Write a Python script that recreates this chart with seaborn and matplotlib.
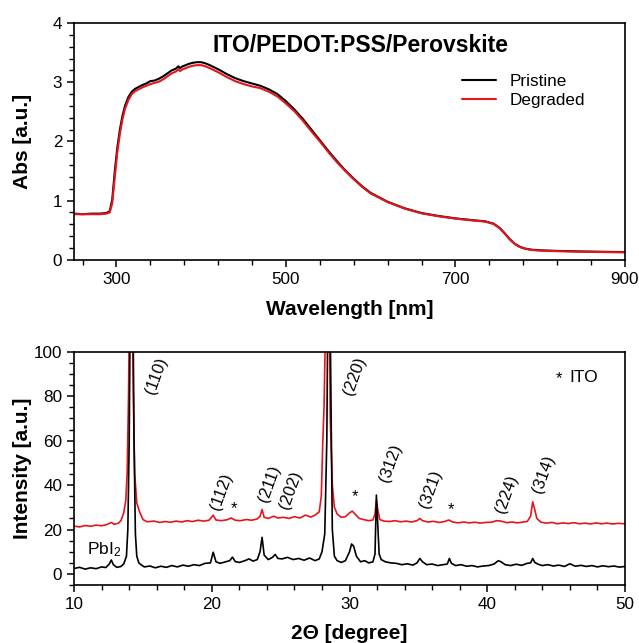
import numpy as np
import pandas as pd
import matplotlib
matplotlib.use("Agg")
import matplotlib.pyplot as plt
from matplotlib.ticker import MultipleLocator, FixedLocator
import seaborn as sns

# ---------------- UV-Vis data ----------------
wavelength = [250, 260, 270, 280, 288, 292, 295, 298, 301, 304, 307, 310, 314, 318, 322,
              326, 330, 335, 340, 345, 350, 355, 360, 365, 370, 373, 375, 378, 380, 385,
              390, 395, 400, 405, 410, 420, 430, 440, 450, 460, 470, 480, 490, 500, 510,
              520, 530, 540, 550, 560, 570, 580, 590, 600, 620, 640, 660, 680, 700, 720,
              735, 745, 752, 758, 764, 770, 776, 782, 790, 800, 820, 850, 875, 900]
abs_pristine = [0.78, 0.77, 0.78, 0.78, 0.79, 0.82, 1.02, 1.50, 1.90, 2.20, 2.43, 2.60, 2.75, 2.84, 2.89,
                2.92, 2.95, 2.98, 3.02, 3.03, 3.06, 3.10, 3.15, 3.20, 3.23, 3.27, 3.24, 3.27, 3.28, 3.31,
                3.33, 3.34, 3.34, 3.32, 3.29, 3.22, 3.14, 3.07, 3.02, 2.98, 2.94, 2.88, 2.80, 2.68, 2.54,
                2.38, 2.20, 2.02, 1.84, 1.67, 1.51, 1.37, 1.24, 1.13, 0.98, 0.87, 0.79, 0.74, 0.70, 0.67,
                0.65, 0.61, 0.54, 0.45, 0.35, 0.27, 0.22, 0.19, 0.17, 0.16, 0.15, 0.14, 0.135, 0.13]
abs_degraded = [0.77, 0.77, 0.77, 0.77, 0.78, 0.80, 0.96, 1.40, 1.82, 2.13, 2.37, 2.55, 2.70, 2.80, 2.85,
                2.88, 2.91, 2.94, 2.97, 2.99, 3.01, 3.05, 3.10, 3.15, 3.18, 3.22, 3.19, 3.22, 3.23, 3.26,
                3.28, 3.29, 3.29, 3.27, 3.24, 3.17, 3.09, 3.02, 2.97, 2.93, 2.90, 2.84, 2.76, 2.64, 2.51,
                2.35, 2.17, 2.00, 1.82, 1.65, 1.50, 1.36, 1.23, 1.12, 0.975, 0.865, 0.785, 0.735, 0.695, 0.665,
                0.645, 0.605, 0.535, 0.445, 0.345, 0.265, 0.215, 0.185, 0.165, 0.155, 0.145, 0.135, 0.13, 0.125]

# ---------------- XRD data (2theta, intensity) ----------------
xrd_pristine = [
    (10.0, 2.5), (10.4, 3.0), (10.8, 2.2), (11.2, 2.8), (11.6, 2.4), (12.0, 3.2), (12.3, 2.9),
    (12.55, 4.5), (12.7, 6.3), (12.85, 4.2), (13.1, 3.0), (13.4, 3.4), (13.6, 4.5), (13.8, 8),
    (13.9, 20), (14.0, 60), (14.1, 140), (14.25, 140), (14.35, 60), (14.45, 18), (14.55, 8),
    (14.7, 5), (14.9, 4.0), (15.1, 3.2), (15.5, 3.6), (15.9, 2.8), (16.3, 3.5), (16.7, 3.0),
    (17.1, 3.8), (17.5, 3.2), (17.9, 4.0), (18.3, 3.5), (18.7, 4.2), (19.1, 3.8), (19.5, 4.8),
    (19.9, 5.0), (20.1, 9.8), (20.3, 5.5), (20.6, 4.8), (21.0, 5.5), (21.3, 6.0), (21.5, 7.6),
    (21.7, 5.6), (22.0, 5.2), (22.4, 6.0), (22.7, 6.8), (23.0, 5.8), (23.3, 6.5), (23.5, 10),
    (23.65, 16.5), (23.8, 8.5), (24.1, 6.5), (24.4, 7.5), (24.6, 8.8), (24.8, 7.0), (25.1, 6.8),
    (25.5, 7.5), (25.9, 6.5), (26.3, 7.0), (26.7, 6.2), (27.1, 7.2), (27.5, 6.0), (27.8, 6.8),
    (28.0, 10), (28.2, 18), (28.35, 60), (28.45, 140), (28.55, 140), (28.65, 80), (28.75, 20),
    (28.9, 8), (29.1, 6.0), (29.4, 5.2), (29.7, 6.0), (30.0, 10), (30.15, 13.5), (30.3, 12.5),
    (30.5, 8), (30.8, 5.5), (31.1, 6.0), (31.4, 5.0), (31.7, 5.5), (31.85, 9), (31.95, 35.5),
    (32.05, 22), (32.15, 9), (32.3, 6.5), (32.6, 5.5), (33.0, 5.0), (33.4, 4.8), (33.8, 4.2),
    (34.2, 4.6), (34.6, 4.0), (34.9, 5.0), (35.1, 7.0), (35.3, 5.5), (35.6, 4.2), (36.0, 4.5),
    (36.4, 3.8), (36.8, 4.2), (37.1, 4.5), (37.25, 7.0), (37.4, 4.8), (37.7, 3.8), (38.1, 4.2),
    (38.5, 3.5), (38.9, 3.8), (39.3, 3.2), (39.7, 3.6), (40.1, 3.8), (40.5, 4.5), (40.8, 6.0),
    (41.0, 5.5), (41.3, 4.2), (41.7, 3.8), (42.1, 4.4), (42.5, 3.9), (42.9, 4.8), (43.15, 5.0),
    (43.3, 7.0), (43.45, 5.2), (43.7, 4.4), (44.0, 3.8), (44.4, 4.2), (44.8, 3.6), (45.2, 4.0),
    (45.6, 3.4), (46.0, 4.6), (46.4, 3.5), (46.8, 3.9), (47.2, 3.4), (47.6, 3.8), (48.0, 3.2),
    (48.4, 3.7), (48.8, 3.3), (49.2, 3.6), (49.6, 3.1), (50.0, 3.4)]

xrd_degraded = [
    (10.0, 21.5), (10.4, 21.2), (10.8, 21.8), (11.2, 21.5), (11.6, 22.0), (12.0, 21.7), (12.4, 22.3),
    (12.7, 23.2), (12.9, 22.4), (13.2, 22.8), (13.4, 24.0), (13.6, 27.5), (13.75, 33), (13.85, 45),
    (13.95, 80), (14.05, 140), (14.2, 140), (14.3, 80), (14.4, 45), (14.55, 32), (14.75, 28),
    (15.0, 24.5), (15.3, 23.5), (15.8, 23.8), (16.2, 23.2), (16.6, 23.6), (17.0, 23.3), (17.4, 23.8),
    (17.8, 23.4), (18.2, 24.0), (18.6, 23.6), (19.0, 24.2), (19.4, 23.8), (19.8, 24.2), (20.1, 26.5),
    (20.3, 24.3), (20.7, 24.0), (21.1, 24.4), (21.4, 25.2), (21.7, 24.2), (22.1, 24.0), (22.5, 24.5),
    (22.9, 24.2), (23.3, 24.8), (23.5, 26.0), (23.65, 29.0), (23.8, 25.5), (24.1, 25.0), (24.5, 26.0),
    (24.8, 25.2), (25.2, 25.5), (25.6, 25.0), (26.0, 25.8), (26.4, 25.2), (26.8, 26.5), (27.2, 25.6),
    (27.5, 26.5), (27.8, 28.0), (27.95, 35), (28.05, 58), (28.15, 75), (28.25, 110), (28.35, 140),
    (28.5, 140), (28.6, 70), (28.75, 40), (28.9, 30), (29.1, 27), (29.4, 25.5), (29.7, 25.8),
    (30.0, 27.5), (30.2, 28.3), (30.4, 27.0), (30.7, 25.0), (31.0, 24.5), (31.4, 24.0), (31.7, 24.3),
    (31.85, 27), (31.95, 33.0), (32.05, 29), (32.2, 24.5), (32.5, 23.8), (32.9, 23.6), (33.3, 24.0),
    (33.7, 23.5), (34.1, 23.8), (34.5, 23.4), (34.9, 24.0), (35.1, 25.0), (35.3, 24.0), (35.7, 23.4),
    (36.1, 23.7), (36.5, 23.2), (36.9, 23.6), (37.2, 24.3), (37.5, 23.4), (37.9, 23.0), (38.3, 23.4),
    (38.7, 23.0), (39.1, 23.3), (39.5, 22.9), (39.9, 23.2), (40.3, 23.3), (40.7, 24.0), (41.0, 23.8),
    (41.4, 23.1), (41.8, 23.4), (42.2, 23.0), (42.6, 23.4), (42.9, 23.6), (43.15, 26), (43.3, 32.5),
    (43.45, 29), (43.6, 25), (43.9, 23.3), (44.3, 22.9), (44.7, 23.2), (45.1, 22.6), (45.5, 23.0),
    (45.9, 22.7), (46.3, 23.1), (46.7, 22.6), (47.1, 22.9), (47.5, 22.5), (47.9, 23.0), (48.3, 22.6),
    (48.7, 22.9), (49.1, 22.5), (49.5, 22.8), (50.0, 22.6)]

# peak labels: (text, 2theta, intensity)
peak_labels = [("(110)", 16.0, 89), ("(112)", 20.7, 37), ("(211)", 24.2, 40.5),
               ("(202)", 25.7, 38), ("(220)", 30.4, 89), ("(312)", 33.0, 50),
               ("(321)", 35.9, 38), ("(224)", 41.4, 36), ("(314)", 44.1, 45)]
ito_marks = [(21.6, 29.5), (30.4, 35), (37.4, 29)]

# ---------------- style ----------------
sns.set_theme(style="ticks")
plt.rcParams['font.family'] = ['Liberation Sans', 'DejaVu Sans']
plt.rcParams['mathtext.default'] = 'regular'
plt.rcParams['text.color'] = 'black'
plt.rcParams['axes.labelcolor'] = 'black'
plt.rcParams['xtick.color'] = 'black'
plt.rcParams['ytick.color'] = 'black'
plt.rcParams['axes.edgecolor'] = 'black'

fig = plt.figure(figsize=(6.39, 6.43), dpi=100)
ax1 = fig.add_axes([0.116, 0.596, 0.862, 0.368])
ax2 = fig.add_axes([0.116, 0.090, 0.862, 0.363])

RED = '#e8141c'
BLACK = '#000000'

# ---- top panel ----
uv = pd.DataFrame({"wl": wavelength + wavelength,
                   "abs": abs_pristine + abs_degraded,
                   "sample": ["Pristine"] * len(wavelength) + ["Degraded"] * len(wavelength)})
sns.lineplot(data=uv, x="wl", y="abs", hue="sample", palette={"Pristine": BLACK, "Degraded": RED},
             estimator=None, linewidth=1.5, ax=ax1, legend=True)
ax1.set_xlim(250, 900)
ax1.set_ylim(0, 4)
ax1.xaxis.set_major_locator(FixedLocator([300, 500, 700, 900]))
ax1.xaxis.set_minor_locator(FixedLocator(list(range(260, 900, 40))))
ax1.yaxis.set_major_locator(MultipleLocator(1))
ax1.yaxis.set_minor_locator(MultipleLocator(0.2))
ax1.set_xlabel("Wavelength [nm]", fontsize=15, fontweight='bold')
ax1.set_ylabel("Abs [a.u.]", fontsize=15, fontweight='bold')
ax1.xaxis.set_label_coords(0.5, -0.172)
ax1.yaxis.set_label_coords(-0.077, 0.5)
ax1.text(0.52, 0.905, "ITO/PEDOT:PSS/Perovskite", transform=ax1.transAxes,
         ha='center', va='center', fontsize=16.5, fontweight='bold')
leg = ax1.legend(loc='upper right', bbox_to_anchor=(0.955, 0.85), frameon=False, fontsize=12.3,
                 handlelength=2.0, handletextpad=0.75, labelspacing=0.25, title=None)
for line in leg.get_lines():
    line.set_linewidth(1.5)

# ---- bottom panel ----
dx, dy = zip(*xrd_degraded)
px, py = zip(*xrd_pristine)
sns.lineplot(x=list(dx), y=list(dy), color=RED, linewidth=1.2, estimator=None, sort=False, ax=ax2)
sns.lineplot(x=list(px), y=list(py), color=BLACK, linewidth=1.2, estimator=None, sort=False, ax=ax2)
ax2.set_xlim(10, 50)
ax2.set_ylim(-5, 100)
ax2.xaxis.set_major_locator(MultipleLocator(10))
ax2.xaxis.set_minor_locator(MultipleLocator(2))
ax2.yaxis.set_major_locator(FixedLocator([0, 20, 40, 60, 80, 100]))
ax2.yaxis.set_minor_locator(FixedLocator(list(range(-5, 100, 5))))
ax2.set_xlabel("2\u0398 [degree]", fontsize=15, fontweight='bold')
ax2.set_ylabel("Intensity [a.u.]", fontsize=15, fontweight='bold')
ax2.xaxis.set_label_coords(0.5, -0.168)
ax2.yaxis.set_label_coords(-0.077, 0.5)

for lab, x, y in peak_labels:
    ax2.text(x, y, lab, rotation=70, ha='center', va='center', fontsize=12)
for x, y in ito_marks:
    ax2.text(x, y, "*", ha='center', va='center', fontsize=12)
ax2.text(45.2, 88, "*", ha='center', va='center', fontsize=12)
ax2.text(46.0, 88.5, "ITO", ha='left', va='center', fontsize=12.5)
ax2.text(10.9, 11, "PbI$_2$", ha='left', va='center', fontsize=12.5)

for ax in (ax1, ax2):
    for s in ax.spines.values():
        s.set_visible(True)
        s.set_color('black')
        s.set_linewidth(1.2)
    ax.tick_params(which='major', direction='out', length=5, width=1.1, labelsize=12.3,
                   colors='black', top=False, right=False)
    ax.tick_params(which='minor', direction='out', length=3.5, width=1.0,
                   top=False, right=False, bottom=True, left=True)

fig.savefig("out.png", dpi=100, facecolor='white')
